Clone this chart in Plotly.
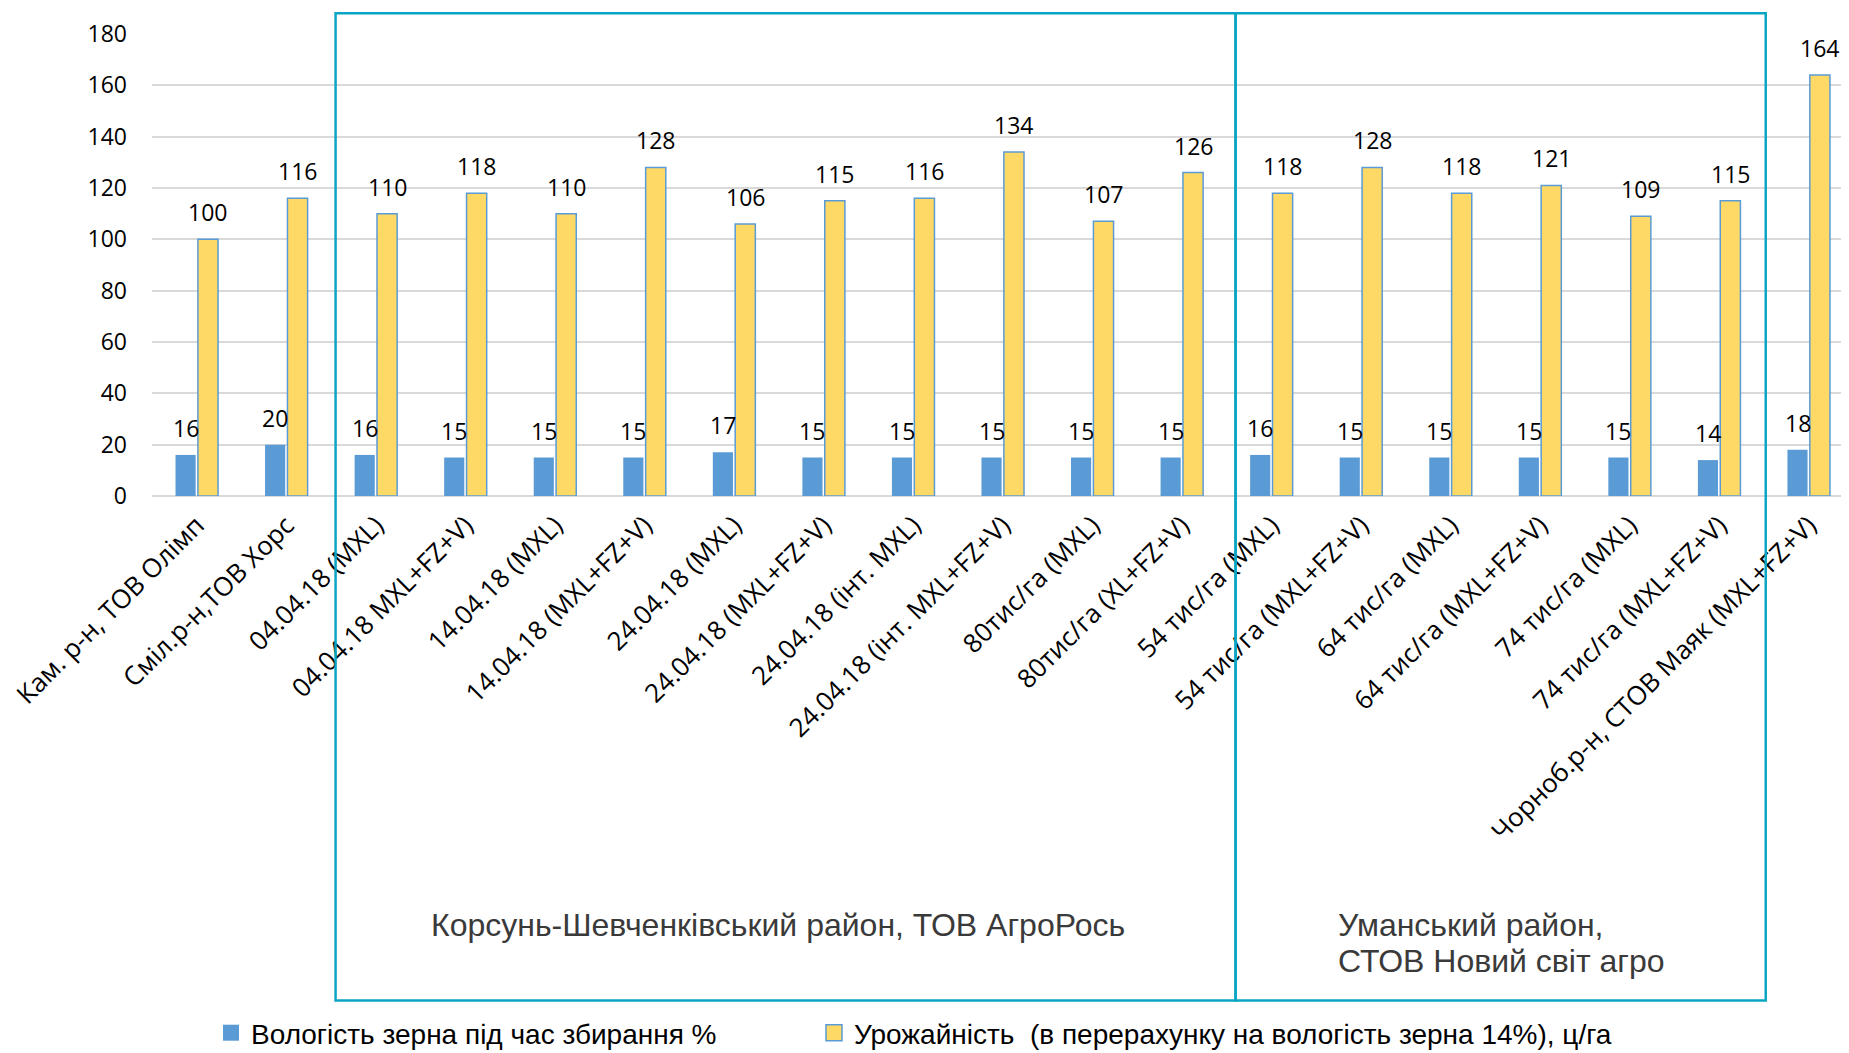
import plotly.graph_objects as go

# categories (x-axis) and the two series
categories = [
    "Кам. р-н, ТОВ Олімп",
    "Сміл.р-н,ТОВ Хорс",
    "04.04.18 (MXL)",
    "04.04.18 MXL+FZ+V)",
    "14.04.18 (MXL)",
    "14.04.18 (MXL+FZ+V)",
    "24.04.18 (MXL)",
    "24.04.18 (MXL+FZ+V)",
    "24.04.18 (інт. MXL)",
    "24.04.18 (інт. MXL+FZ+V)",
    "80тис/га (MXL)",
    "80тис/га (XL+FZ+V)",
    "54 тис/га (MXL)",
    "54 тис/га (MXL+FZ+V)",
    "64 тис/га (MXL)",
    "64 тис/га (MXL+FZ+V)",
    "74 тис/га (MXL)",
    "74 тис/га (MXL+FZ+V)",
    "Чорноб.р-н, СТОВ Маяк (MXL+FZ+V)",
]
moisture = [16, 20, 16, 15, 15, 15, 17, 15, 15, 15, 15, 15, 16, 15, 15, 15, 15, 14, 18]
yield_cha = [100, 116, 110, 118, 110, 128, 106, 115, 116, 134, 107, 126, 118, 128, 118, 121, 109, 115, 164]

moisture_name = "Вологість зерна під час збирання %"
yield_name = "Урожайність  (в перерахунку на вологість зерна 14%), ц/га"

# district frames: category-axis edges of the two boxes, plus captions
frame_edges = [1.55, 11.6, 17.52]
korsun_caption = "Корсунь-Шевченківський район, ТОВ АгроРось"
uman_caption = ["Уманський район,", "СТОВ Новий світ агро"]

BLUE = "#5B9BD5"
GOLD = "#FFD966"
TEAL = "#0AA5C4"
BASE = "Open Sans, Noto Sans, sans-serif"
LABEL_FONT = dict(family=BASE, size=23, color="#000000")
CAT_FONT = dict(family=BASE, size=26, color="#000000")
NOTE_FONT = dict(family="Liberation Sans, Arial, sans-serif", size=32, color="#3A3A3A")
LEGEND_FONT = dict(family="Liberation Sans Narrow, Liberation Sans, sans-serif", size=28, color="#000000")

# page body has an 8px margin, so the figure is trimmed by that much
W, H, OFF = 1849 - 8, 1053 - 8, 8
BAR_SHIFT = 11.2  # half a bar slot in px, to centre labels over each bar

fig = go.Figure()
fig.add_trace(go.Bar(
    x=categories, y=moisture, name=moisture_name, showlegend=False,
    marker=dict(color=BLUE, line=dict(color=BLUE, width=0)),
))
fig.add_trace(go.Bar(
    x=categories, y=yield_cha, name=yield_name, showlegend=False,
    marker=dict(color=GOLD, line=dict(color=BLUE, width=1.5)),
))

# legend entries with bigger square swatches than plotly's bar swatch
fig.add_trace(go.Scatter(
    x=[None], y=[None], mode="markers", name=moisture_name, legend="legend",
    marker=dict(symbol="square", size=17, color=BLUE, line=dict(width=0)),
))
fig.add_trace(go.Scatter(
    x=[None], y=[None], mode="markers", name=yield_name, legend="legend2",
    marker=dict(symbol="square", size=16, color=GOLD, line=dict(color=BLUE, width=1.5)),
))

# value labels sit a little higher above the bars than plotly's own outside text
for cat, m, y in zip(categories, moisture, yield_cha):
    for val, dx in ((m, -BAR_SHIFT), (y, BAR_SHIFT)):
        fig.add_annotation(
            x=cat, y=val, xref="x", yref="y", text=str(val), showarrow=False,
            xshift=dx, yshift=27, xanchor="center", yanchor="middle",
            font=LABEL_FONT,
        )

for x0, x1 in zip(frame_edges[:-1], frame_edges[1:]):
    fig.add_shape(
        type="rect", xref="x", yref="paper",
        x0=x0, x1=x1, y0=-1.092, y1=1.045,
        line=dict(color=TEAL, width=2.5), fillcolor="rgba(0,0,0,0)",
        layer="above",
    )

fig.add_annotation(
    x=(frame_edges[0] + frame_edges[1]) / 2 - 0.09, y=-0.928, xref="x", yref="paper",
    text=korsun_caption, showarrow=False, xanchor="center", yanchor="middle",
    font=NOTE_FONT,
)
for i, line in enumerate(uman_caption):
    fig.add_annotation(
        x=12.72, y=-0.928 - 0.079 * i, xref="x", yref="paper",
        text=line, showarrow=False, xanchor="left", yanchor="middle", align="left",
        font=NOTE_FONT,
    )

legend_common = dict(
    orientation="h", xref="container", yref="container",
    y=1 - 1025 / H, xanchor="left", yanchor="middle",
    font=LEGEND_FONT, itemclick=False, bgcolor="rgba(0,0,0,0)",
    itemwidth=30, tracegroupgap=0,
)

fig.update_layout(
    width=W, height=H,
    paper_bgcolor="white", plot_bgcolor="white",
    margin=dict(l=152 - OFF, r=0, t=34 - OFF, b=H - (496.5 - OFF)),
    barmode="group", bargap=0.5, bargroupgap=0.1,
    font=LABEL_FONT,
    showlegend=True,
    legend=dict(x=203 / W, **legend_common),
    legend2=dict(x=806 / W, **legend_common),
    hovermode=False,
)
fig.update_xaxes(
    range=[-0.5, 18.45], tickangle=-45, tickfont=CAT_FONT,
    showline=False, ticks="", showgrid=False, ticklabelstandoff=8,
)
fig.update_yaxes(
    range=[0, 180], dtick=20, tickfont=LABEL_FONT,
    gridcolor="#D9D9D9", gridwidth=1.5, zeroline=True,
    zerolinecolor="#D9D9D9", zerolinewidth=1.5, showline=False, ticks="",
    ticklabelstandoff=24,
)

fig.write_html("out.html", config=dict(displayModeBar=False))
